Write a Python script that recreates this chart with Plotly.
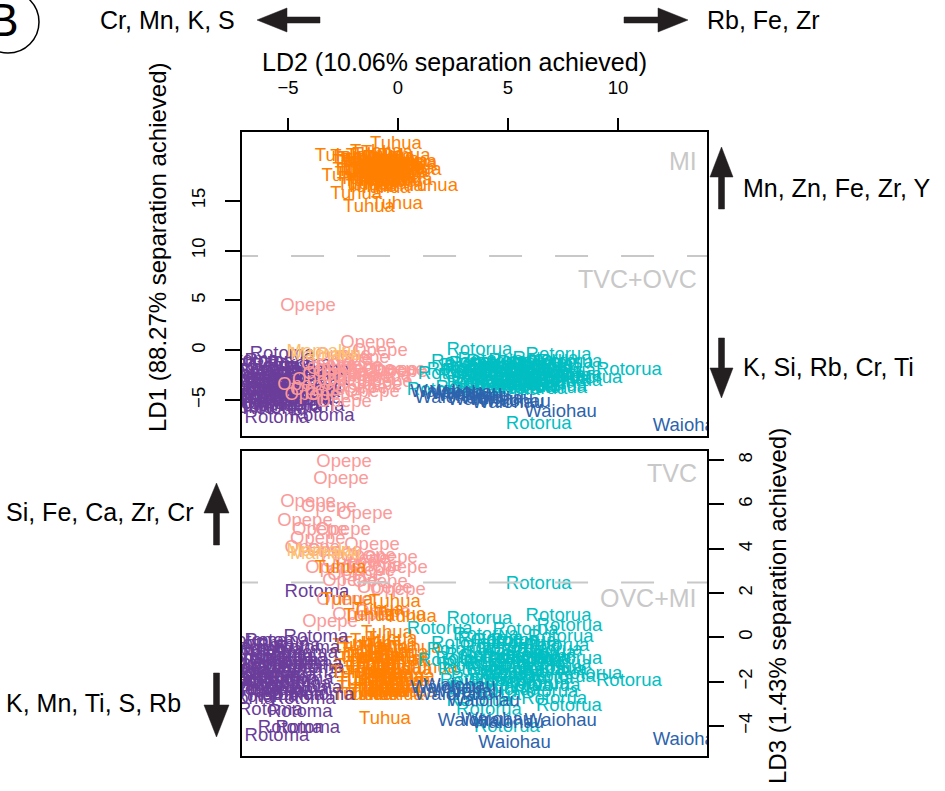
import plotly.graph_objects as go

W, H = 945, 791
FONT = "Liberation Sans, Arial, Helvetica, sans-serif"

# ---- discriminant scores per source (LD2 = x, LD1 = top panel y, LD3 = bottom panel y)
# the first 13 Tuhua samples are the scattered ones, the rest form the main cloud
tuhua_ld2 = [-0.09, -2.6, -2.3, 1.55, -1.32, -0.05, -1.9, -0.14, -0.59, 0.59, -1.3, 0.1, -0.9,
             -1.8, -1.6, -1.4, -1.2, -1.0, -0.8, -0.6, -0.4, -0.2, 0.0, 0.2,
             -1.7, -1.5, -1.3, -1.1, -0.9, -0.7, -0.5, -0.3, -0.1, 0.1,
             -1.8, -1.5, -0.9, -0.3, 0.3,
             -1.2, -0.6, 0.0, -1.6, 0.6, -1.9, 0.8, 0.4, -1.0, -0.5,
             -1.3, -0.7, -0.1, -1.6, -1.0, -0.4, 0.2, -1.4, -0.8, -0.2, 0.5, -1.1]
tuhua_ld1 = [20.7, 19.5, 17.4, 16.4, 14.3, 14.6, 15.6, 18.5, 17.3, 18.9, 16.9, 17.6, 18.2,
             18.9, 19.2, 18.3, 19.5, 18.7, 19.0, 18.1, 19.3, 18.4, 18.9, 17.8,
             17.6, 17.1, 17.8, 16.6, 17.4, 16.9, 17.7, 16.8, 17.3, 18.3,
             18.0, 18.8, 19.6, 18.6, 19.5,
             16.3, 16.2, 16.4, 16.5, 18.7, 19.4, 18.0, 17.0, 19.9, 19.8,
             18.6, 18.4, 18.0, 17.9, 17.9, 17.2, 18.9, 19.0, 17.0, 19.1, 18.2, 18.1]
tuhua_ld3 = [-1.0, 3.13, 1.68, -1.4, -0.8, -2.0, -1.6, 1.59, -3.68, 0.92, 0.95, 1.0, 1.2,
             -0.4, -1.9, -2.6, -1.2, -0.2, -2.4, -1.5, -0.7, -2.5, -1.8, -1.1,
             -1.3, -0.6, -2.0, -2.6, -0.9, -2.5, -1.7, -0.4, -2.3, -1.0,
             -2.6, -1.0, -1.6, -0.1, -2.0,
             -1.4, -2.2, -2.6, -2.3, -2.5, -0.9, -0.5, -1.5, -2.5, 0.2,
             -1.6, -0.5, -1.4, -2.1, -1.9, -2.0, -0.7, -0.3, -1.2, -2.3, -1.8, -0.9]

rotoma_ld2 = [-3.68, -3.73, -4.9, -4.1, -5.8, -4.45, -5.27, -5.5, -3.45,
              -7.3, -7.0, -6.8, -6.6, -6.4, -6.2, -6.0, -5.8, -5.6, -5.4, -5.2, -5.0, -4.8, -4.6,
              -4.4, -4.2, -4.0, -3.9,
              -7.1, -6.9, -6.5, -6.1, -5.7, -5.3, -4.9, -4.5, -4.1,
              -5.9, -5.1, -6.7, -7.5, -7.6, -4.3, -5.5,
              -7.2, -6.3, -5.5, -4.7, -6.0, -5.0, -4.2, -6.6, -5.3, -7.4, -4.6, -5.8, -6.9, -4.0, -6.2]
rotoma_ld1 = [-2.0, -3.0, -5.8, -4.2, -4.6, -5.0, -0.4, -6.8, -6.6,
              -3.2, -4.5, -2.0, -5.4, -3.8, -1.2, -4.9, -2.7, -5.9, -3.4, -1.6, -4.3, -2.3, -5.2,
              -3.0, -4.0, -1.9, -5.6,
              -5.8, -1.0, -2.9, -3.9, -4.6, -5.0, -3.6, -1.4, -2.6,
              -2.2, -3.1, -4.1, -2.4, -4.9, -4.8, -1.1,
              -3.7, -2.4, -3.9, -2.9, -1.6, -5.5, -3.4, -4.8, -2.1, -5.3, -4.4, -3.3, -2.6, -3.8, -5.6]
rotoma_ld3 = [2.05, 0.0, -4.1, -4.1, -3.3, -3.4, -1.2, -4.45, -2.6,
              -1.5, -0.6, -2.4, -1.0, -2.0, -0.3, -2.7, -1.3, -0.8, -2.2, -1.7, -0.4, -2.6, -1.1,
              -1.9, -0.7, -2.3, -1.4,
              -2.8, -1.8, -0.2, -1.6, -2.5, -0.9, -1.4, -2.1, -0.5,
              -2.0, -1.1, -1.2, -2.2, -1.0, -2.8, -0.2,
              -1.9, -1.4, -1.8, -0.9, -2.4, -2.0, -1.6, -0.5, -2.6, -1.4, -2.4, -0.6, -2.0, -1.2, -1.7]

opepe_ld2 = [-2.45, -2.59, -4.09, -3.14, -1.5, -4.23, -3.55, -2.5, -3.64, -1.36, -0.36, -2.95, -1.05,
             0.09, -2.18, -0.82, -1.73, -0.68, -2.45, 0.0, -1.95, -1.18, -3.09, -1.64, -3.9,
             -2.9, -2.2, -1.4, -0.6]
opepe_ld1 = [-0.97, -2.18, 4.43, -1.48, -2.78, -3.49, -2.98, -0.47, -3.99, 0.73, -1.98, -4.49, -3.49,
             -2.18, -3.08, -0.07, -3.79, -2.58, -5.19, -1.98, -1.58, -4.19, -2.38, -0.8, -4.5,
             -1.9, -2.6, -1.9, -3.2]
opepe_ld3 = [7.91, 7.14, 6.1, 5.88, 5.56, 5.25, 4.84, 4.84, 4.44, 3.67, 3.58, 3.13, 3.22,
             3.13, 2.54, 2.5, 1.0, 1.14, 1.68, 2.14, 2.81, 4.17, 0.69, 3.5, 4.0,
             3.9, 3.4, 3.0, 2.2]

mamaku_ld2 = [-3.45, -3.3]
mamaku_ld1 = [-0.2, -0.5]
mamaku_ld3 = [3.9, 3.75]

rotorua_ld2 = [3.7, 7.3, 10.5, 6.4, 1.9, 2.4, 7.8, 7.77, 4.14, 4.95, 8.7, 3.7, 7.1,
               3.0, 3.3, 3.6, 3.9, 4.2, 4.5, 4.8, 5.1, 5.4, 5.7, 6.0, 6.3, 6.6, 6.9, 7.2, 7.5, 7.8,
               3.2, 3.8, 4.4, 5.0, 5.6, 6.2, 6.8, 7.4,
               4.0, 4.7, 5.3, 5.9, 6.5, 7.1, 2.8, 4.1, 5.8, 6.7,
               3.5, 4.3, 5.2, 6.1, 6.9, 4.9, 5.5, 6.4, 7.3, 3.4, 4.6, 5.8]
rotorua_ld1 = [0.0, -0.5, -2.0, -7.4, -4.0, -2.4, -1.2, -2.5, -3.5, -4.0, -2.8, -3.3, -3.6,
               -1.2, -2.6, -1.8, -3.4, -1.0, -2.2, -3.0, -1.5, -2.8, -3.7, -1.3, -2.4, -3.3, -1.7,
               -2.9, -2.1, -3.1,
               -3.8, -1.4, -3.9, -2.4, -1.1, -3.9, -2.6, -1.3,
               -2.3, -1.6, -3.5, -2.0, -1.5, -3.8, -2.0, -2.9, -3.0, -0.9,
               -2.1, -2.7, -1.9, -3.2, -2.3, -3.3, -2.2, -1.9, -2.6, -1.6, -1.2, -3.6]
rotorua_ld3 = [0.83, 0.96, -2.0, 2.41, 0.38, -1.1, 0.51, -3.1, -3.3, -4.05, -1.65, -2.9, -2.8,
               -0.3, -1.5, -0.8, -1.9, -0.1, -1.2, -2.0, -0.6, -1.6, -0.2, -1.1, -2.1, -0.7, -1.4,
               -0.4, -1.8, -1.0,
               -1.0, -2.3, -0.5, -2.4, -1.3, -0.9, -2.2, 0.0,
               0.1, -1.7, -1.0, -0.3, -1.9, -1.5, -0.6, -2.6, 0.3, -2.5,
               -1.3, -0.9, -1.8, -1.5, -0.6, -0.2, -2.2, -1.0, -1.2, -2.0, -1.5, -0.8]

waiohau_ld2 = [13.23, 7.4, 5.3, 2.4, 3.1, 3.45, 4.5, 2.8, 5.0, 3.9, 2.2]
waiohau_ld1 = [-7.6, -6.2, -5.2, -4.8, -4.3, -4.6, -4.9, -4.4, -5.3, -5.0, -4.2]
waiohau_ld3 = [-4.63, -3.8, -4.8, -2.6, -2.5, -3.8, -3.75, -2.2, -3.9, -2.9, -2.3]

colours = {
    "Tuhua": "#FF7F00",
    "Rotoma": "#6A3D9A",
    "Opepe": "#FB9A99",
    "Mamaku": "#FDBF6F",
    "Rotorua": "#00BEC2",
    "Waiohau": "#2D63AD",
}
scores = {
    "Tuhua": (tuhua_ld2, tuhua_ld1, tuhua_ld3),
    "Rotoma": (rotoma_ld2, rotoma_ld1, rotoma_ld3),
    "Opepe": (opepe_ld2, opepe_ld1, opepe_ld3),
    "Mamaku": (mamaku_ld2, mamaku_ld1, mamaku_ld3),
    "Rotorua": (rotorua_ld2, rotorua_ld1, rotorua_ld3),
    "Waiohau": (waiohau_ld2, waiohau_ld1, waiohau_ld3),
}

# drawing order (later labels sit on top where they pile up)
draw_order = [
    ("Tuhua", slice(13, None)),
    ("Rotoma", slice(None)),
    ("Opepe", slice(None)),
    ("Mamaku", slice(None)),
    ("Tuhua", slice(0, 13)),
    ("Rotorua", slice(None)),
    ("Waiohau", slice(None)),
]

# discriminant boundaries
ld1_cut = 9.45
ld3_cut = 2.48
x_range = [-7.09, 14.05]

fig = go.Figure()
for name, part in draw_order:
    ld2, ld1, ld3 = (v[part] for v in scores[name])
    common = dict(mode="text", text=[name] * len(ld2), textposition="middle center",
                  textfont=dict(family=FONT, size=18.5, color=colours[name]),
                  showlegend=False, hoverinfo="skip", cliponaxis=True)
    fig.add_trace(go.Scatter(x=ld2, y=ld1, xaxis="x", yaxis="y", **common))
    fig.add_trace(go.Scatter(x=ld2, y=ld3, xaxis="x2", yaxis="y2", **common))


def px_x(v):
    return v / W


def px_y(v):
    return 1 - v / H


def poly(points):
    return "M " + " L ".join(f"{px_x(x):.5f},{px_y(y):.5f}" for x, y in points) + " Z"


shapes = []
# dashed separation lines (start left of the frame so the dash phase lines up)
dash_start = x_range[0] - 0.77
shapes.append(dict(type="line", xref="x", yref="y", x0=dash_start, x1=x_range[1] + 1,
                   y0=ld1_cut, y1=ld1_cut, line=dict(color="#C8C8C8", width=2, dash="33px,33px")))
shapes.append(dict(type="line", xref="x2", yref="y2", x0=dash_start, x1=x_range[1] + 1,
                   y0=ld3_cut, y1=ld3_cut, line=dict(color="#C8C8C8", width=2, dash="33px,33px")))

arrow_style = dict(type="path", xref="paper", yref="paper", fillcolor="#231F20",
                   line=dict(color="#231F20", width=0.5))
# horizontal loading arrows for LD2
shapes.append(dict(path=poly([(257, 20), (287, 8), (287, 17), (320, 17), (320, 23), (287, 23), (287, 32)]), **arrow_style))
shapes.append(dict(path=poly([(688, 20), (658, 8), (658, 17), (624, 17), (624, 23), (658, 23), (658, 32)]), **arrow_style))
# vertical loading arrows for LD1
shapes.append(dict(path=poly([(721.5, 147), (733, 177), (724.5, 177), (724.5, 209), (718.5, 209), (718.5, 177), (710, 177)]), **arrow_style))
shapes.append(dict(path=poly([(721.5, 398), (733, 368), (724.5, 368), (724.5, 338), (718.5, 338), (718.5, 368), (710, 368)]), **arrow_style))
# vertical loading arrows for LD3
shapes.append(dict(path=poly([(216.5, 483), (229, 513), (219.5, 513), (219.5, 545), (213.5, 545), (213.5, 513), (204, 513)]), **arrow_style))
shapes.append(dict(path=poly([(216.5, 737), (229, 705), (219.5, 705), (219.5, 673), (213.5, 673), (213.5, 705), (204, 705)]), **arrow_style))
# panel letter ring
shapes.append(dict(type="circle", xref="paper", yref="paper", x0=px_x(-23), x1=px_x(39),
                   y0=px_y(53), y1=px_y(-9), line=dict(color="black", width=1.5)))

annotations = []


def note(text, x, y, xanchor, size=25, color="black", angle=0):
    annotations.append(dict(text=text, xref="paper", yref="paper", x=px_x(x), y=px_y(y),
                            xanchor=xanchor, yanchor="middle", showarrow=False, textangle=angle,
                            font=dict(family=FONT, size=size, color=color)))


note("Cr, Mn, K, S", 237, 20, "right")
note("Rb, Fe, Zr", 705, 20, "left")
note("Mn, Zn, Fe, Zr, Y", 741, 188, "left")
note("K, Si, Rb, Cr, Ti", 741, 367, "left")
note("Si, Fe, Ca, Zr, Cr", 4, 512, "left")
note("K, Mn, Ti, S, Rb", 4, 703, "left")
note("B", 3, 20, "center", size=46)

# axis titles
note("LD2 (10.06% separation achieved)", 454, 62, "center", size=25)
note("LD1 (88.27% separation achieved)", 157, 247, "center", size=24, angle=-90)
note("LD3 (1.43% separation achieved)", 777, 606, "center", size=24, angle=-90)

# volcanic-centre region labels
region_font = dict(family=FONT, size=25, color="#C8C8C8")
for text, yref, yv in [("MI", "y", 19.0), ("TVC+OVC", "y", 7.15),
                       ("TVC", "y2", 7.4), ("OVC+MI", "y2", 1.78)]:
    annotations.append(dict(text=text, xref="x domain" if yref == "y" else "x2 domain", yref=yref,
                            x=0.983, y=yv, xanchor="right", yanchor="middle",
                            showarrow=False, font=region_font))

tick_font = dict(family=FONT, size=18.5, color="black")
frame = dict(showline=True, linecolor="black", linewidth=2, mirror=True,
             showgrid=False, zeroline=False)
x_dom = [242 / W, 707 / W]

fig.update_layout(
    width=W, height=H, autosize=False,
    margin=dict(l=0, r=0, t=0, b=0),
    paper_bgcolor="white", plot_bgcolor="white",
    shapes=shapes, annotations=annotations,
    xaxis=dict(domain=x_dom, range=x_range, anchor="y", side="top",
               tickvals=[-5, 0, 5, 10], ticks="outside", ticklen=12, tickwidth=1.5,
               tickcolor="black", tickfont=tick_font, ticklabelstandoff=17, **frame),
    yaxis=dict(domain=[1 - 436 / H, 1 - 132 / H], range=[-8.6, 21.9], anchor="x",
               tickvals=[-5, 0, 5, 10, 15], ticks="outside", ticklen=15, tickwidth=1.5,
               tickcolor="black", tickfont=tick_font, tickangle=-90, ticklabelstandoff=13,
               **frame),
    xaxis2=dict(domain=x_dom, range=x_range, anchor="y2", showticklabels=False, ticks="",
                **frame),
    yaxis2=dict(domain=[1 - 756 / H, 1 - 451 / H], range=[-5.35, 8.41], anchor="x2", side="right",
                tickvals=[-4, -2, 0, 2, 4, 6, 8], ticks="outside", ticklen=15, tickwidth=1.5,
                tickcolor="black", tickfont=tick_font, tickangle=-90, ticklabelstandoff=6,
                **frame),
)

fig.write_html("out.html")
